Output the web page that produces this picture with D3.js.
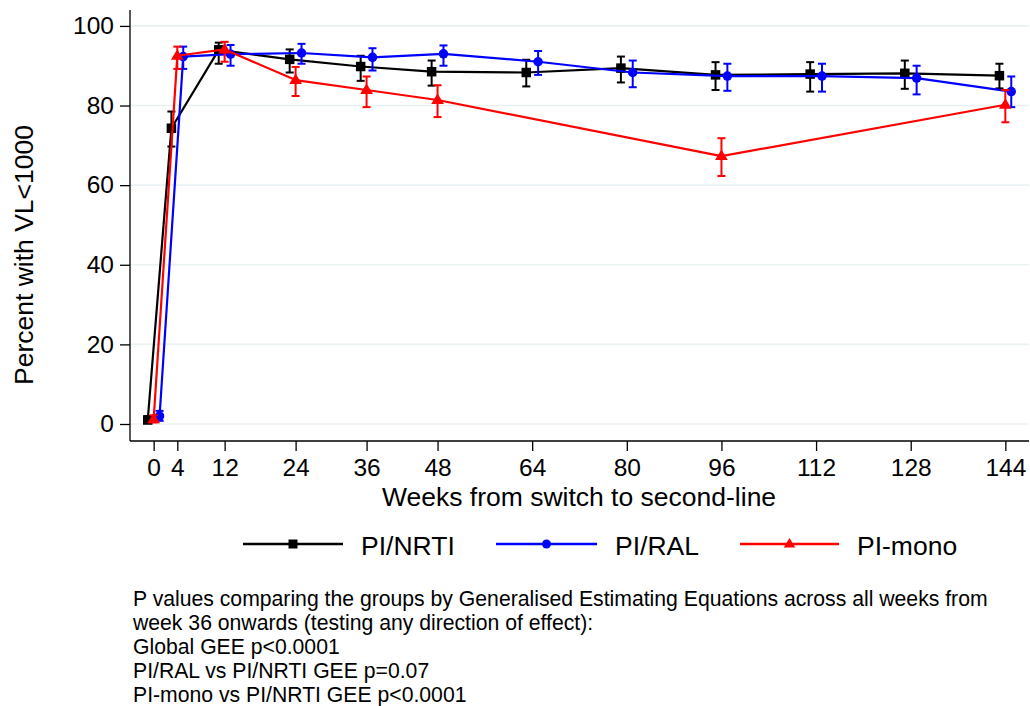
<!DOCTYPE html>
<html>
<head>
<meta charset="utf-8">
<script src="https://cdn.jsdelivr.net/npm/d3@7"></script>
<style>
  html, body { margin: 0; padding: 0; background: #fff; }
  svg { display: block; font-family: "Liberation Sans", Arial, Helvetica, sans-serif; }
</style>
</head>
<body>
<svg id="chart" width="1030" height="706"></svg>
<script>
// Visit weeks and tick labels
const weeks = [0, 4, 12, 24, 36, 48, 64, 80, 96, 112, 128, 144];
const xTicks = [0, 4, 12, 24, 36, 48, 64, 80, 96, 112, 128, 144];
const yTicks = [0, 20, 40, 60, 80, 100];

// PI/NRTI: percent with VL<1000 and 95% CI
const nrtiVal = [1.0, 74.3, 94.0, 91.6, 89.8, 88.5, 88.3, 89.4, 87.7, 87.9, 88.1, 87.5];
const nrtiLo  = [0.3, 69.7, 90.5, 88.3, 86.2, 85.0, 84.8, 85.8, 83.9, 83.5, 84.2, 84.3];
const nrtiHi  = [2.0, 78.5, 95.8, 94.1, 92.5, 91.3, 91.5, 92.3, 90.9, 90.9, 91.3, 90.5];

// PI/RAL
const ralVal = [2.0, 92.3, 92.9, 93.2, 92.1, 93.0, 91.0, 88.3, 87.4, 87.4, 86.9, 83.5];
const ralLo  = [0.8, 89.2, 90.0, 90.5, 88.8, 90.0, 87.7, 84.6, 83.7, 83.5, 82.8, 79.6];
const ralHi  = [3.3, 94.8, 95.2, 95.5, 94.4, 95.1, 93.7, 91.3, 90.5, 90.5, 90.0, 87.3];

// PI-mono (fewer visits)
const monoWeeks = [0, 4, 12, 24, 36, 48, 96, 144];
const monoVal = [1.2, 92.5, 94.1, 86.4, 83.9, 81.4, 67.3, 80.2];
const monoLo  = [0.4, 89.2, 91.0, 82.4, 79.6, 77.1, 62.3, 75.8];
const monoHi  = [2.2, 94.8, 96.0, 89.7, 87.3, 85.1, 71.8, 83.9];

const seriesNames = ["PI/NRTI", "PI/RAL", "PI-mono"];

const notes = [
  "P values comparing the groups by Generalised Estimating Equations across all weeks from",
  "week 36 onwards (testing any direction of effect):",
  "Global GEE p<0.0001",
  "PI/RAL vs PI/NRTI GEE p=0.07",
  "PI-mono vs PI/NRTI GEE p<0.0001"
];

function rows(w, v, lo, hi) {
  return w.map((wk, i) => ({ week: wk, v: v[i], lo: lo[i], hi: hi[i] }));
}

const series = [
  { name: seriesNames[0], color: "#000000", shape: "square", dodge: -1, data: rows(weeks, nrtiVal, nrtiLo, nrtiHi) },
  { name: seriesNames[1], color: "#0000ff", shape: "circle", dodge: 1, data: rows(weeks, ralVal, ralLo, ralHi) },
  { name: seriesNames[2], color: "#ff0000", shape: "triangle", dodge: 0, data: rows(monoWeeks, monoVal, monoLo, monoHi) }
];

const svg = d3.select("#chart");
const plotLeft = 130, plotRight = 1029, plotTop = 10, plotBottom = 441;

const x = d3.scaleLinear().domain([-4, 148]).range([plotLeft, plotRight]);
const y = d3.scaleLinear().domain([-4.27, 104]).range([plotBottom, plotTop]);

// Gridlines
svg.append("g")
  .selectAll("line")
  .data(yTicks)
  .join("line")
  .attr("x1", plotLeft).attr("x2", plotRight)
  .attr("y1", d => y(d)).attr("y2", d => y(d))
  .attr("stroke", "#eaf1f3").attr("stroke-width", 1.6);

// Axes
const yAxis = svg.append("g")
  .attr("transform", `translate(${plotLeft},0)`)
  .call(d3.axisLeft(y).tickValues(yTicks).tickSize(10).tickPadding(6).tickSizeOuter(0));
const xAxis = svg.append("g")
  .attr("transform", `translate(0,${plotBottom})`)
  .call(d3.axisBottom(x).tickValues(xTicks).tickSize(10).tickPadding(8).tickSizeOuter(0));

[yAxis, xAxis].forEach(g => {
  g.select(".domain").attr("stroke", "#000").attr("stroke-width", 1.3);
  g.selectAll(".tick line").attr("stroke", "#000").attr("stroke-width", 1.3);
  g.selectAll(".tick text")
    .attr("fill", "#000")
    .style("font-family", "'Liberation Sans', Arial, sans-serif")
    .style("font-size", "24.5px");
});
yAxis.select(".domain").attr("d", `M0,${plotTop}V${plotBottom}`);
xAxis.select(".domain").attr("d", `M${plotLeft},0H${plotRight}`);

// Axis titles
svg.append("text")
  .attr("transform", "translate(33,255) rotate(-90)")
  .attr("text-anchor", "middle")
  .style("font-size", "26.5px")
  .text("Percent with VL<1000");

svg.append("text")
  .attr("x", 579).attr("y", 506)
  .attr("text-anchor", "middle")
  .style("font-size", "26.5px")
  .text("Weeks from switch to second-line");

// Marker path generators
function markerPath(shape, s) {
  if (shape === "square") return `M${-s/2},${-s/2}h${s}v${s}h${-s}Z`;
  if (shape === "circle") { const r = s / 2; return `M${-r},0a${r},${r} 0 1,0 ${2*r},0a${r},${r} 0 1,0 ${-2*r},0Z`; }
  const h = s * 0.95;
  return `M0,${-h*0.62}L${s*0.58},${h*0.38}L${-s*0.58},${h*0.38}Z`;
}

const line = d3.line().x(d => d.px).y(d => y(d.v));
const cap = 4;

series.forEach(s => {
  const pts = s.data.map(d => Object.assign({}, d, { px: x(d.week + s.dodge) }));
  const g = svg.append("g");

  g.append("path")
    .datum(pts)
    .attr("d", line)
    .attr("fill", "none")
    .attr("stroke", s.color)
    .attr("stroke-width", 2.2)
    .attr("stroke-linejoin", "round");

  const eb = g.append("g").selectAll("g").data(pts).join("g")
    .attr("stroke", s.color).attr("stroke-width", 2);
  eb.append("line")
    .attr("x1", d => d.px).attr("x2", d => d.px)
    .attr("y1", d => y(d.lo)).attr("y2", d => y(d.hi));
  eb.append("line")
    .attr("x1", d => d.px - cap).attr("x2", d => d.px + cap)
    .attr("y1", d => y(d.lo)).attr("y2", d => y(d.lo));
  eb.append("line")
    .attr("x1", d => d.px - cap).attr("x2", d => d.px + cap)
    .attr("y1", d => y(d.hi)).attr("y2", d => y(d.hi));

  const size = s.shape === "triangle" ? 11 : 9.5;
  g.append("g").selectAll("path").data(pts).join("path")
    .attr("transform", d => `translate(${d.px},${y(d.v)})`)
    .attr("d", markerPath(s.shape, size))
    .attr("fill", s.color);
});

// Legend
const legendY = 544;
const legendItems = [
  { x0: 243, x1: 343, tx: 361 },
  { x0: 496, x1: 597, tx: 615 },
  { x0: 740, x1: 839, tx: 857 }
];
const lg = svg.append("g");
series.forEach((s, i) => {
  const it = legendItems[i];
  lg.append("line")
    .attr("x1", it.x0).attr("x2", it.x1)
    .attr("y1", legendY).attr("y2", legendY)
    .attr("stroke", s.color).attr("stroke-width", 2.6);
  lg.append("path")
    .attr("transform", `translate(${(it.x0 + it.x1) / 2},${legendY})`)
    .attr("d", markerPath(s.shape, s.shape === "triangle" ? 10 : 9))
    .attr("fill", s.color);
  lg.append("text")
    .attr("x", it.tx).attr("y", legendY + 11)
    .style("font-size", "26.5px")
    .text(s.name);
});

// Footnote
svg.append("g").selectAll("text").data(notes).join("text")
  .attr("x", 133)
  .attr("y", (d, i) => 606 + i * 24)
  .style("font-size", "21.2px")
  .text(d => d);
</script>
</body>
</html>
